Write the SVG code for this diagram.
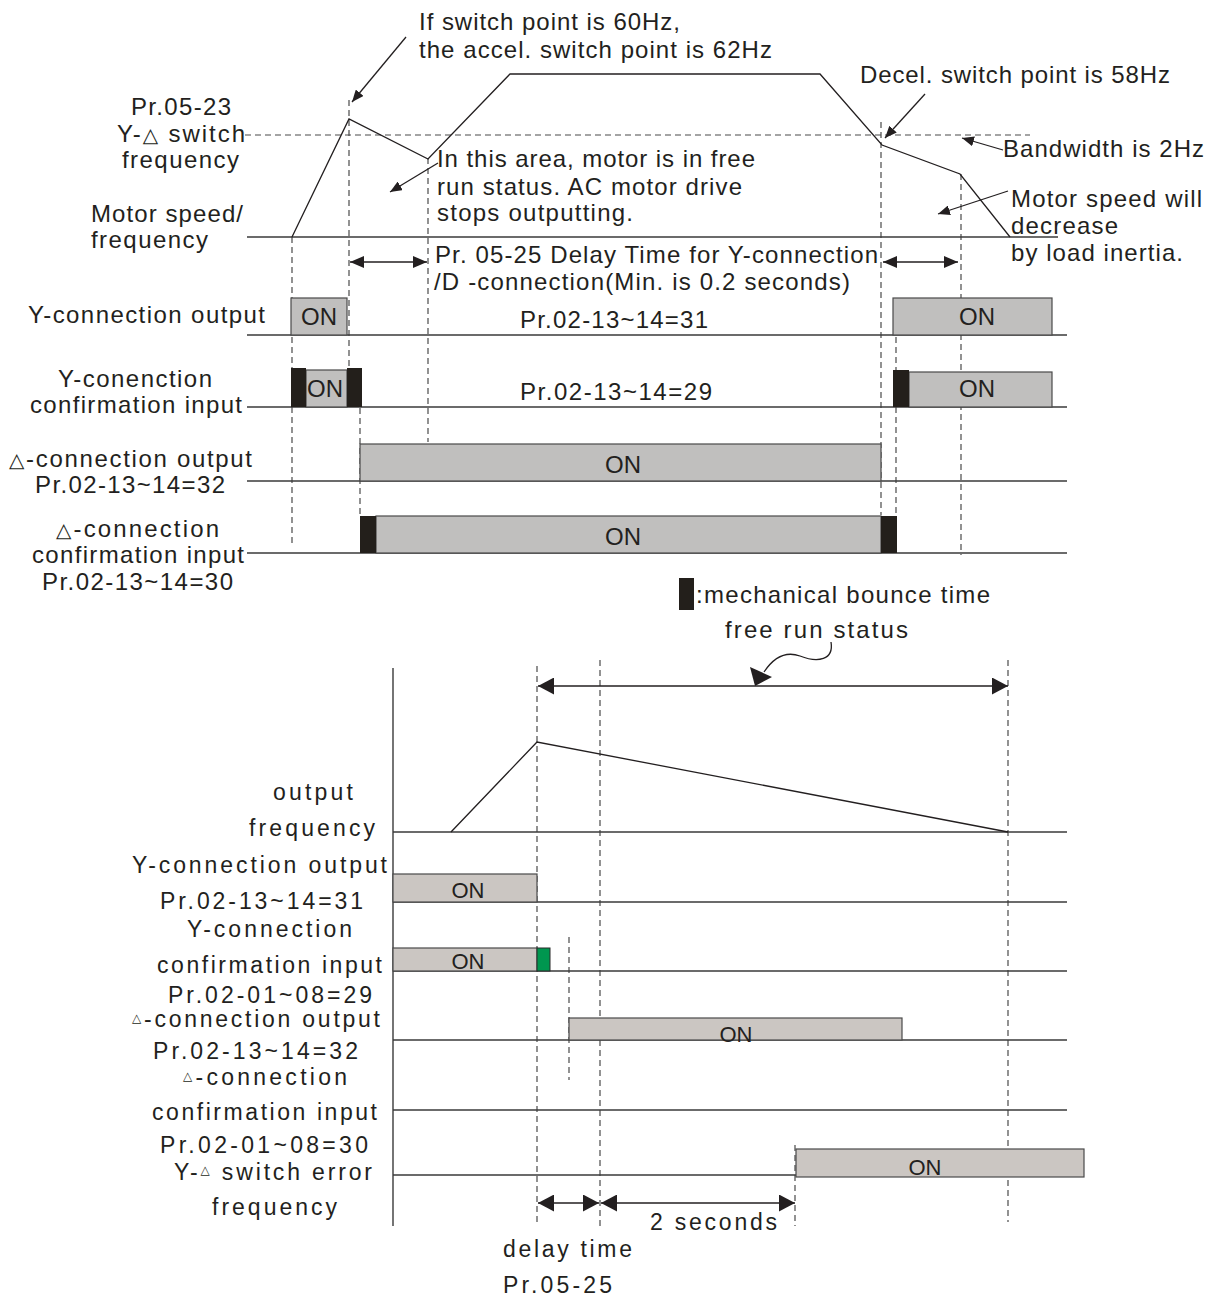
<svg xmlns="http://www.w3.org/2000/svg" width="1218" height="1299" viewBox="0 0 1218 1299">
<style>
.t{font-family:"Liberation Sans",Arial,"DejaVu Sans",sans-serif;font-size:24px;fill:#231f20}
.s{font-family:"Liberation Sans",Arial,"DejaVu Sans",sans-serif;font-size:23px;fill:#231f20}
.tri{font-family:"DejaVu Sans",sans-serif;font-size:20px}
.on{font-family:"Liberation Sans",Arial,sans-serif;font-size:24px;fill:#231f20;text-anchor:middle}
.on2{font-family:"Liberation Sans",Arial,sans-serif;font-size:22px;fill:#231f20;text-anchor:middle}
.ln{stroke:#231f20;stroke-width:1.3;fill:none}
.row{stroke:#3a3a3a;stroke-width:1.4;fill:none}
.dash{stroke:#4a4a4a;stroke-width:1.2;stroke-dasharray:6 4;fill:none}
.box{fill:#c0bfbe;stroke:#4a4a4a;stroke-width:1.2}
.box2{fill:#cbc6c2;stroke:#4a4a4a;stroke-width:1.2}
.blk{fill:#231f1b}
</style>
<defs>
<marker id="sm" viewBox="0 0 10 10" refX="10" refY="5" markerWidth="12" markerHeight="10" markerUnits="userSpaceOnUse" orient="auto" preserveAspectRatio="none"><path d="M0,0 L10,5 L0,10 z" fill="#231f20"/></marker>
<marker id="md" viewBox="0 0 10 10" refX="10" refY="5" markerWidth="14" markerHeight="12" markerUnits="userSpaceOnUse" orient="auto-start-reverse" preserveAspectRatio="none"><path d="M0,0 L10,5 L0,10 z" fill="#231f20"/></marker>
<marker id="bg" viewBox="0 0 10 10" refX="10" refY="5" markerWidth="16" markerHeight="17" markerUnits="userSpaceOnUse" orient="auto-start-reverse" preserveAspectRatio="none"><path d="M0,0 L10,5 L0,10 z" fill="#231f20"/></marker>
</defs>

<!-- ===== CONNECTORS (drawn first so the ON bars sit on top) ===== -->
<g id="connectors">
<line class="dash" x1="245" y1="135" x2="1030" y2="135"/>
<line class="dash" x1="292" y1="237" x2="292" y2="547"/>
<line class="dash" x1="349" y1="100" x2="349" y2="368"/>
<line class="dash" x1="360" y1="408" x2="360" y2="516"/>
<line class="dash" x1="428" y1="158" x2="428" y2="442"/>
<line class="dash" x1="881" y1="122" x2="881" y2="515"/>
<line class="dash" x1="896" y1="337" x2="896" y2="555"/>
<line class="dash" x1="961" y1="174" x2="961" y2="555"/>
<line class="ln" x1="350" y1="262" x2="427" y2="262" marker-start="url(#md)" marker-end="url(#md)"/>
<line class="ln" x1="883" y1="262" x2="958" y2="262" marker-start="url(#md)" marker-end="url(#md)"/>
<line class="ln" x1="406" y1="37" x2="352" y2="102" marker-end="url(#sm)"/>
<line class="ln" x1="438" y1="163" x2="390" y2="192" marker-end="url(#sm)"/>
<line class="ln" x1="925" y1="94" x2="885" y2="138" marker-end="url(#sm)"/>
<line class="ln" x1="1003" y1="150" x2="962" y2="138" marker-end="url(#sm)"/>
<line class="ln" x1="1008" y1="191" x2="938" y2="214" marker-end="url(#sm)"/>

<line class="dash" x1="537" y1="666" x2="537" y2="1226"/>
<line class="dash" x1="600" y1="660" x2="600" y2="1226"/>
<line class="dash" x1="1008" y1="660" x2="1008" y2="1222"/>
<line class="dash" x1="569" y1="937" x2="569" y2="1080"/>
<line class="dash" x1="795" y1="1145" x2="795" y2="1226"/>
<line class="ln" x1="538" y1="686" x2="1008" y2="686" marker-start="url(#bg)" marker-end="url(#bg)"/>
<line class="ln" x1="538" y1="1203" x2="599" y2="1203" marker-start="url(#bg)" marker-end="url(#bg)"/>
<line class="ln" x1="601" y1="1203" x2="795" y2="1203" marker-start="url(#bg)" marker-end="url(#bg)"/>
<path class="ln" d="M831,642 C834,660 818,663 800,656 C786,651 774,657 764,672"/>
<polygon points="755,686 750,667 772,677" fill="#231f20"/>
</g>

<!-- ===== TOP DIAGRAM ===== -->
<g id="top-grid">
<line class="row" x1="247" y1="237" x2="1058" y2="237"/>
<line class="row" x1="247" y1="335" x2="1067" y2="335"/>
<line class="row" x1="247" y1="407" x2="1067" y2="407"/>
<line class="row" x1="247" y1="481" x2="1067" y2="481"/>
<line class="row" x1="247" y1="553" x2="1067" y2="553"/>
</g>

<g id="top-speed-curve">
<polyline class="ln" points="292,237 349,119 428,159 510,74 820,74 882,145 960,174 1010,237"/>
</g>

<g id="top-y-output">
<rect class="box" x="291" y="298" width="56" height="37"/>
<text class="on" x="319" y="325">ON</text>
<rect class="box" x="893" y="298" width="159" height="37"/>
<text class="on" x="977" y="325">ON</text>
</g>

<g id="top-y-confirm">
<rect class="box" x="306" y="370" width="41" height="37"/>
<rect class="blk" x="291" y="368" width="15" height="39"/>
<rect class="blk" x="347" y="368" width="15" height="39"/>
<text class="on" x="325" y="397">ON</text>
<rect class="box" x="909" y="372" width="143" height="35"/>
<rect class="blk" x="893" y="370" width="16" height="37"/>
<text class="on" x="977" y="397">ON</text>
</g>

<g id="top-delta-output">
<rect class="box" x="360" y="444" width="521" height="37"/>
<text class="on" x="623" y="473">ON</text>
</g>

<g id="top-delta-confirm">
<rect class="box" x="376" y="516" width="505" height="37"/>
<rect class="blk" x="360" y="516" width="16" height="37"/>
<rect class="blk" x="881" y="516" width="16" height="37"/>
<text class="on" x="623" y="545">ON</text>
</g>

<g id="top-labels">
<text class="t" x="419" y="30" textLength="261" lengthAdjust="spacing">If switch point is 60Hz,</text>
<text class="t" x="419" y="58" textLength="353" lengthAdjust="spacing">the accel. switch point is 62Hz</text>
<text class="t" x="131" y="115" textLength="100" lengthAdjust="spacing">Pr.05-23</text>
<text class="t" x="117" y="142" textLength="128" lengthAdjust="spacing">Y-<tspan class="tri">△</tspan> switch</text>
<text class="t" x="122" y="168" textLength="117" lengthAdjust="spacing">frequency</text>
<text class="t" x="91" y="222" textLength="152" lengthAdjust="spacing">Motor speed/</text>
<text class="t" x="91" y="248" textLength="117" lengthAdjust="spacing">frequency</text>
<text class="t" x="437" y="167" textLength="318" lengthAdjust="spacing">In this area, motor is in free</text>
<text class="t" x="437" y="195" textLength="305" lengthAdjust="spacing">run status. AC motor drive</text>
<text class="t" x="437" y="221" textLength="196" lengthAdjust="spacing">stops outputting.</text>
<text class="t" x="435" y="263" textLength="443" lengthAdjust="spacing">Pr. 05-25 Delay Time for Y-connection</text>
<text class="t" x="434" y="290" textLength="416" lengthAdjust="spacing">/D -connection(Min. is 0.2 seconds)</text>
<text class="t" x="860" y="83" textLength="310" lengthAdjust="spacing">Decel. switch point is 58Hz</text>
<text class="t" x="1003" y="157" textLength="201" lengthAdjust="spacing">Bandwidth is 2Hz</text>
<text class="t" x="1011" y="207" textLength="191" lengthAdjust="spacing">Motor speed will</text>
<text class="t" x="1011" y="234" textLength="107" lengthAdjust="spacing">decrease</text>
<text class="t" x="1011" y="261" textLength="172" lengthAdjust="spacing">by load inertia.</text>
<text class="t" x="28" y="323" textLength="237" lengthAdjust="spacing">Y-connection output</text>
<text class="t" x="520" y="328" textLength="188" lengthAdjust="spacing">Pr.02-13~14=31</text>
<text class="t" x="58" y="387" textLength="154" lengthAdjust="spacing">Y-conenction</text>
<text class="t" x="30" y="413" textLength="212" lengthAdjust="spacing">confirmation input</text>
<text class="t" x="520" y="400" textLength="192" lengthAdjust="spacing">Pr.02-13~14=29</text>
<text class="t" x="9" y="467" textLength="243" lengthAdjust="spacing"><tspan class="tri">△</tspan>-connection output</text>
<text class="t" x="35" y="493" textLength="190" lengthAdjust="spacing">Pr.02-13~14=32</text>
<text class="t" x="56" y="537" textLength="163" lengthAdjust="spacing"><tspan class="tri">△</tspan>-connection</text>
<text class="t" x="32" y="563" textLength="212" lengthAdjust="spacing">confirmation input</text>
<text class="t" x="42" y="590" textLength="191" lengthAdjust="spacing">Pr.02-13~14=30</text>
</g>

<!-- ===== LEGEND ===== -->
<g id="legend">
<rect class="blk" x="679" y="578" width="15" height="32"/>
<text class="t" x="696" y="603" textLength="294" lengthAdjust="spacing">:mechanical bounce time</text>
<text class="t" x="725" y="638" textLength="183" lengthAdjust="spacing">free run status</text>
</g>

<!-- ===== BOTTOM DIAGRAM ===== -->
<g id="bottom-grid">
<line class="row" x1="393" y1="668" x2="393" y2="1226"/>
<line class="row" x1="393" y1="832" x2="1067" y2="832"/>
<line class="row" x1="393" y1="902" x2="1067" y2="902"/>
<line class="row" x1="393" y1="971" x2="1067" y2="971"/>
<line class="row" x1="393" y1="1040" x2="1067" y2="1040"/>
<line class="row" x1="393" y1="1110" x2="1067" y2="1110"/>
<line class="row" x1="393" y1="1175" x2="1067" y2="1175"/>
</g>

<g id="bottom-output-frequency">
<polyline class="ln" points="451,832 537,742 1008,832"/>
</g>

<g id="bottom-y-output">
<rect class="box2" x="393" y="874" width="144" height="28"/>
<text class="on2" x="468" y="898">ON</text>
</g>

<g id="bottom-y-confirm">
<rect class="box2" x="393" y="948" width="144" height="23"/>
<rect x="537" y="948" width="13" height="23" fill="#00964f" stroke="#2a2a2a" stroke-width="1"/>
<text class="on2" x="468" y="969">ON</text>
</g>

<g id="bottom-delta-output">
<rect class="box2" x="569" y="1018" width="333" height="22"/>
<text class="on2" x="736" y="1042">ON</text>
</g>

<g id="bottom-switch-error">
<rect class="box2" x="796" y="1149" width="288" height="28"/>
<text class="on2" x="925" y="1175">ON</text>
</g>

<g id="bottom-labels">
<text class="s" x="273" y="800" textLength="80" lengthAdjust="spacing">output</text>
<text class="s" x="249" y="836" textLength="126" lengthAdjust="spacing">frequency</text>
<text class="s" x="132" y="873" textLength="255" lengthAdjust="spacing">Y-connection output</text>
<text class="s" x="160" y="909" textLength="203" lengthAdjust="spacing">Pr.02-13~14=31</text>
<text class="s" x="187" y="937" textLength="165" lengthAdjust="spacing">Y-connection</text>
<text class="s" x="157" y="973" textLength="225" lengthAdjust="spacing">confirmation input</text>
<text class="s" x="168" y="1003" textLength="204" lengthAdjust="spacing" font-size="22">Pr.02-01~08=29</text>
<text class="s" x="132" y="1027" textLength="248" lengthAdjust="spacing" font-size="22"><tspan font-family="DejaVu Sans" font-size="12" dy="-5">△</tspan><tspan dy="5">-connection output</tspan></text>
<text class="s" x="153" y="1059" textLength="205" lengthAdjust="spacing" font-size="22">Pr.02-13~14=32</text>
<text class="s" x="183" y="1085" textLength="164" lengthAdjust="spacing" font-size="22"><tspan font-family="DejaVu Sans" font-size="12" dy="-5">△</tspan><tspan dy="5">-connection</tspan></text>
<text class="s" x="152" y="1120" textLength="225" lengthAdjust="spacing">confirmation input</text>
<text class="s" x="160" y="1153" textLength="208" lengthAdjust="spacing">Pr.02-01~08=30</text>
<text class="s" x="174" y="1180" textLength="198" lengthAdjust="spacing">Y-<tspan font-family="DejaVu Sans" font-size="12" dy="-6">△</tspan><tspan dy="6"> switch error</tspan></text>
<text class="s" x="212" y="1215" textLength="125" lengthAdjust="spacing">frequency</text>
<text class="s" x="650" y="1230" textLength="127" lengthAdjust="spacing">2 seconds</text>
<text class="s" x="503" y="1257" textLength="129" lengthAdjust="spacing">delay time</text>
<text class="s" x="503" y="1293" textLength="109" lengthAdjust="spacing">Pr.05-25</text>
</g>
</svg>
